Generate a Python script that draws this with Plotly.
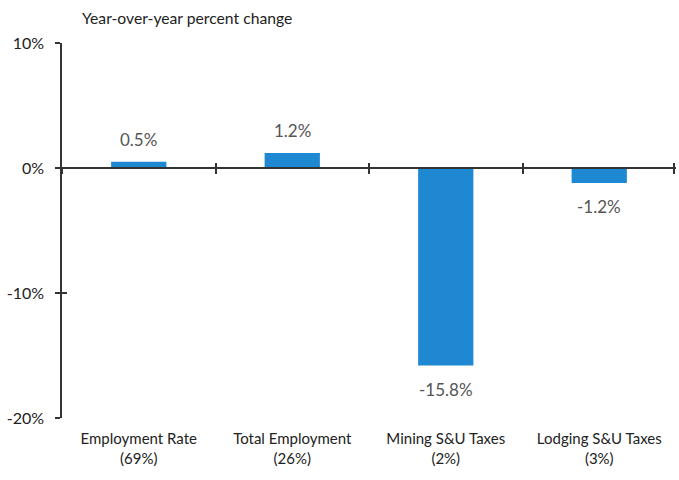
import plotly.graph_objects as go

categories = ["Employment Rate<br>(69%)", "Total Employment<br>(26%)",
              "Mining S&U Taxes<br>(2%)", "Lodging S&U Taxes<br>(3%)"]
values = [0.5, 1.2, -15.8, -1.2]
value_labels = ["0.5%", "1.2%", "-15.8%", "-1.2%"]
y_ticks = [10, 0, -10, -20]
y_tick_labels = ["10%", "0%", "-10%", "-20%"]

FONT = "Lato"
AXIS = "#333333"
pos = list(range(len(categories)))
bounds = [p - 0.5 for p in pos] + [pos[-1] + 0.49]
y_range = [-20, 10]
zero_pos = (0 - y_range[0]) / (y_range[1] - y_range[0])

fig = go.Figure()
fig.add_trace(go.Bar(x=pos, y=values, width=0.36, marker_color="#1f88d2",
                     marker_line_width=0, hoverinfo="skip"))

for p, v, t in zip(pos, values, value_labels):
    fig.add_annotation(x=p, y=v, text=t, showarrow=False,
                       yanchor="bottom" if v >= 0 else "top",
                       yshift=10 if v >= 0 else -11,
                       font=dict(family=FONT, size=17, color="#555555"))

fig.add_annotation(xref="paper", yref="paper", x=0.03, y=1.0, yshift=25,
                   xanchor="left", yanchor="middle", showarrow=False,
                   text="Year-over-year percent change",
                   font=dict(family=FONT, size=15.7, color="#222222"))

fig.update_layout(
    width=679, height=480,
    margin=dict(l=62, r=3, t=43, b=62),
    paper_bgcolor="white", plot_bgcolor="white",
    showlegend=False,
    xaxis=dict(range=[-0.5, 3.5], tickmode="array", tickvals=pos, ticktext=categories,
               showline=False, showgrid=False, zeroline=False, ticks="",
               ticklabelstandoff=10,
               tickfont=dict(family=FONT, size=15, color="#222222")),
    xaxis2=dict(overlaying="x", anchor="free", position=zero_pos, range=[-0.5, 3.5],
                tickmode="array", tickvals=bounds, showticklabels=False,
                showline=True, linecolor=AXIS, linewidth=1.5,
                ticks="outside", ticklen=5, tickwidth=1.5, tickcolor=AXIS,
                showgrid=False, zeroline=False),
    xaxis3=dict(overlaying="x", anchor="free", position=zero_pos, range=[-0.5, 3.5],
                tickmode="array", tickvals=bounds, showticklabels=False,
                showline=False, ticks="inside", ticklen=5, tickwidth=1.5, tickcolor=AXIS,
                showgrid=False, zeroline=False),
    yaxis=dict(range=y_range, tickmode="array", tickvals=y_ticks, ticktext=y_tick_labels,
               showline=True, linecolor=AXIS, linewidth=1.5,
               ticks="outside", ticklen=5, tickwidth=1.5, tickcolor=AXIS,
               showgrid=False, zeroline=False, ticklabelstandoff=8,
               tickfont=dict(family=FONT, size=16, color="#222222")),
    yaxis2=dict(overlaying="y", anchor="x", range=y_range, tickmode="array",
                tickvals=y_ticks, showticklabels=False, showline=False,
                ticks="inside", ticklen=5, tickwidth=1.5, tickcolor=AXIS,
                showgrid=False, zeroline=False),
)
# invisible traces to activate overlay axes
fig.add_trace(go.Scatter(x=[None], y=[None], xaxis="x2", yaxis="y", showlegend=False))
fig.add_trace(go.Scatter(x=[None], y=[None], xaxis="x3", yaxis="y", showlegend=False))
fig.add_trace(go.Scatter(x=[None], y=[None], xaxis="x", yaxis="y2", showlegend=False))

fig.write_html("out.html")
